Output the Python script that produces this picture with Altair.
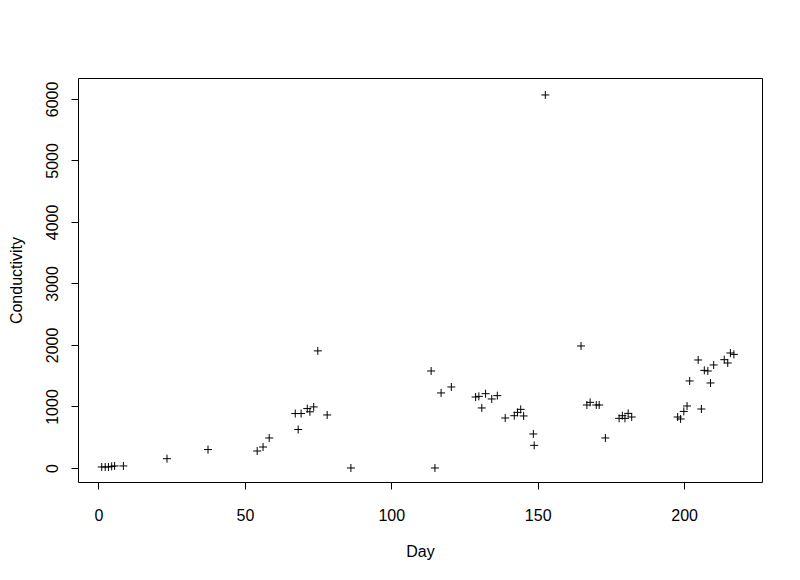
import altair as alt
import pandas as pd

day = [1.1, 2.3, 3.4, 4.5, 5.5, 8.5, 23.4, 37.4, 54.2, 56.2,
       58.3, 67.2, 68.2, 69.2, 71.3, 72.2, 73.5, 74.9, 78.1, 86.2,
       113.6, 114.9, 117.0, 120.5, 128.8, 129.9, 130.9, 132.2, 134.3, 136.2,
       138.9, 142.0, 143.1, 144.2, 145.2, 148.5, 148.8, 152.6, 164.8, 166.8,
       167.9, 170.0, 171.0, 173.1, 177.8, 178.9, 179.8, 180.9, 182.1, 197.8,
       198.8, 199.9, 201.0, 201.9, 204.8, 205.9, 206.9, 208.1, 209.0, 210.1,
       213.7, 214.9, 215.8, 217.0]
conductivity = [16, 16, 16, 26, 33, 33, 151, 299, 276, 341,
                488, 885, 625, 885, 966, 913, 993, 1904, 862, 0,
                1577, 0, 1220, 1317, 1154, 1165, 976, 1208, 1122, 1176,
                813, 850, 904, 953, 846, 553, 368, 6065, 1984, 1024,
                1067, 1024, 1024, 488, 807, 850, 807, 888, 829, 829,
                797, 920, 1008, 1415, 1756, 959, 1587, 1577, 1382, 1675,
                1761, 1707, 1870, 1847]

x_ticks = [0, 50, 100, 150, 200]
y_ticks = [0, 1000, 2000, 3000, 4000, 5000, 6000]

df = pd.DataFrame({"Day": day, "Conductivity": conductivity})

FONT = "Liberation Sans"
FS = 16

chart = alt.Chart(df).mark_point(
    shape="M-1,0L1,0M0,-1L0,1",
    size=64,
    filled=False,
    color="black",
    strokeWidth=1,
    opacity=1,
).encode(
    x=alt.X("Day:Q",
            scale=alt.Scale(domain=[-7, 226.6], nice=False, zero=False),
            axis=alt.Axis(values=x_ticks, grid=False, domain=False, format="d",
                          tickSize=7, tickColor="black", tickWidth=1,
                          labelFont=FONT, labelFontSize=FS, labelColor="black",
                          labelPadding=31, labelBaseline="alphabetic",
                          title="Day", titleFont=FONT, titleFontSize=FS,
                          titleFontWeight="normal", titleColor="black",
                          titleY=74, titleBaseline="alphabetic")),
    y=alt.Y("Conductivity:Q",
            scale=alt.Scale(domain=[-228, 6341], nice=False, zero=False),
            axis=alt.Axis(values=y_ticks, grid=False, domain=False, format="d",
                          tickSize=7, tickColor="black", tickWidth=1,
                          labelFont=FONT, labelFontSize=FS, labelColor="black",
                          labelAngle=270, labelAlign="center",
                          labelBaseline="alphabetic", labelPadding=14,
                          title="Conductivity", titleFont=FONT, titleFontSize=FS,
                          titleFontWeight="normal", titleColor="black",
                          titleX=-57, titleBaseline="alphabetic")),
).properties(
    width=684,
    height=404,
    padding={"left": 70, "top": 70, "right": 30, "bottom": 90},
    autosize=alt.AutoSizeParams(type="none"),
    background="white",
).configure_view(
    stroke="black",
    strokeWidth=1,
    fill="white",
)

chart.save("out.html", embed_options={"renderer": "svg", "actions": False})
